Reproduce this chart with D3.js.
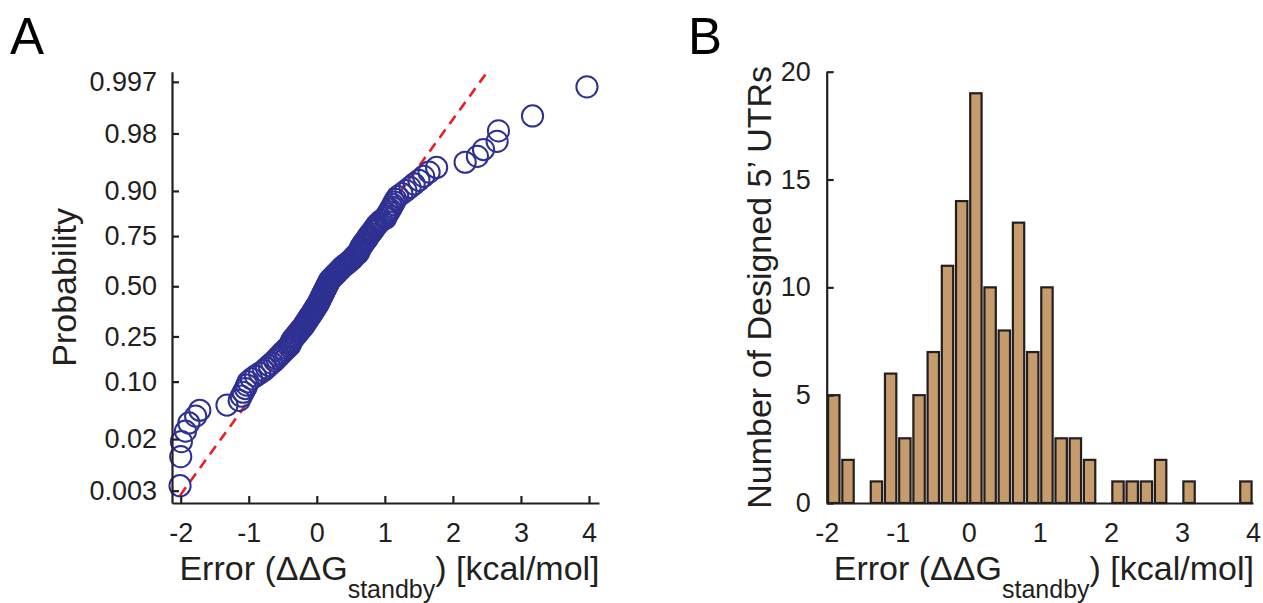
<!DOCTYPE html>
<html>
<head>
<meta charset="utf-8">
<script src="https://cdn.jsdelivr.net/npm/d3@7"></script>
<style>
  body { margin: 0; background: #fff; }
  svg { display: block; font-family: Arial, "Liberation Sans", Helvetica, sans-serif; }
</style>
</head>
<body>
<div id="chart"></div>
<script>
// Panel A: sorted errors (kcal/mol) of the designed 5' UTRs
const errorsSorted = [
  -2.01, -2.00, -1.99, -1.93, -1.88, -1.78, -1.72,
  -1.32,
  -1.14, -1.11, -1.08, -1.05, -1.03, -1.01,
  -0.96, -0.90, -0.84,
  -0.78, -0.74, -0.70, -0.66, -0.62,
  -0.59, -0.56, -0.53, -0.50, -0.47, -0.44, -0.41,
  -0.39, -0.38, -0.37, -0.35, -0.33, -0.31, -0.29, -0.27, -0.25, -0.23, -0.21,
  -0.19, -0.18, -0.16, -0.15, -0.13, -0.12, -0.10, -0.09, -0.07, -0.06, -0.05, -0.03, -0.02, -0.01,
  0.01, 0.02, 0.03, 0.04, 0.05, 0.06, 0.07, 0.08, 0.09, 0.10, 0.11, 0.12, 0.13, 0.14, 0.15, 0.16, 0.17, 0.18, 0.19,
  0.21, 0.23, 0.25, 0.27, 0.29, 0.31, 0.33, 0.35, 0.37, 0.39,
  0.42, 0.45, 0.47, 0.50, 0.52, 0.54, 0.56, 0.58,
  0.61, 0.62, 0.63, 0.64, 0.65, 0.67, 0.68, 0.70, 0.72, 0.74, 0.75, 0.77, 0.79,
  0.81, 0.83, 0.85, 0.87, 0.89, 0.92, 0.95,
  1.01, 1.02, 1.04, 1.06, 1.08, 1.10, 1.12, 1.14, 1.16, 1.19,
  1.25, 1.31, 1.37,
  1.43, 1.50, 1.57,
  1.65, 1.76,
  2.18, 2.36, 2.45, 2.65, 2.67, 3.17, 3.97
];
const probTicks = [0.003, 0.02, 0.10, 0.25, 0.50, 0.75, 0.90, 0.98, 0.997];
const probTickLabels = ["0.003", "0.02", "0.10", "0.25", "0.50", "0.75", "0.90", "0.98", "0.997"];
const errorTicks = [-2, -1, 0, 1, 2, 3, 4];

// Panel B: histogram of the same errors
const binStarts = [-2.0, -1.8, -1.6, -1.4, -1.2, -1.0, -0.8, -0.6, -0.4, -0.2,
                   0.0, 0.2, 0.4, 0.6, 0.8, 1.0, 1.2, 1.4, 1.6, 1.8,
                   2.0, 2.2, 2.4, 2.6, 2.8, 3.0, 3.2, 3.4, 3.6, 3.8, 4.0];
const binCounts = [5, 2, 0, 1, 6, 3, 5, 7, 11, 14,
                   19, 10, 8, 13, 7, 10, 3, 3, 2, 0,
                   1, 1, 1, 2, 0, 1, 0, 0, 0, 1];
const countTicks = [0, 5, 10, 15, 20];

// inverse of the standard normal CDF (Acklam), used for the probability axis
function normInv(p) {
    const a = [-3.969683028665376e+01, 2.209460984245205e+02, -2.759285104469687e+02, 1.383577518672690e+02, -3.066479806614716e+01, 2.506628277459239e+00];
    const b = [-5.447609879822406e+01, 1.615858368580409e+02, -1.556989798598866e+02, 6.680131188771972e+01, -1.328068155288572e+01];
    const c = [-7.784894002430293e-03, -3.223964580411365e-01, -2.400758277161838e+00, -2.549671010229528e+00, 4.374664141464968e+00, 2.938163982698783e+00];
    const d = [7.784695709041462e-03, 3.224671290700398e-01, 2.445134137142996e+00, 3.754408661907416e+00];
    const tail = q => (((((c[0]*q+c[1])*q+c[2])*q+c[3])*q+c[4])*q+c[5]) / ((((d[0]*q+d[1])*q+d[2])*q+d[3])*q+1);
    if (p < 0.02425) return tail(Math.sqrt(-2 * Math.log(p)));
    if (p > 1 - 0.02425) return -tail(Math.sqrt(-2 * Math.log(1 - p)));
    const q = p - 0.5, r = q * q;
    return (((((a[0]*r+a[1])*r+a[2])*r+a[3])*r+a[4])*r+a[5])*q / (((((b[0]*r+b[1])*r+b[2])*r+b[3])*r+b[4])*r+1);
}

function drawFigure(containerId) {
    const width = 1263, height = 603;
    const ink = "#231f20";
    const tickFont = 27, labelFont = 34;
    const plainNum = d => String(d);   // hyphen minus, as in the original

    const svg = d3.select(containerId).append("svg")
        .attr("width", width).attr("height", height)
        .style("background", "#fff");

    // axis label "Error (ΔΔG_standby) [kcal/mol]"
    const errorLabel = (cx) => {
        const t = svg.append("text").attr("x", cx + 4).attr("y", 580)
            .attr("text-anchor", "middle").attr("fill", ink).style("font-size", labelFont + "px");
        t.append("tspan").text("Error (ΔΔG");
        t.append("tspan").attr("dy", 18).style("font-size", "25px").text("standby");
        t.append("tspan").attr("dy", -18).text(") [kcal/mol]");
    };

    const styleAxis = (g) => {
        g.attr("font-family", null).attr("font-size", tickFont);
        g.select(".domain").attr("stroke", ink).attr("stroke-width", 2.2);
        g.selectAll(".tick line").attr("stroke", ink).attr("stroke-width", 2.2);
        g.selectAll(".tick text").attr("fill", ink);
    };

    // ---------- Panel A: normal probability plot ----------
    const ax = { left: 172, right: 599, top: 71.7, bottom: 503 };
    const xA = d3.scaleLinear().domain([-2.128, 4.147]).range([ax.left, ax.right]);
    const zA = d3.scaleLinear().domain([-2.913, 2.884]).range([ax.bottom, ax.top]);

    svg.append("text").attr("x", 10).attr("y", 54).attr("fill", "#000")
        .style("font-size", "51px").text("A");

    svg.append("clipPath").attr("id", "clipA").append("rect")
        .attr("x", ax.left).attr("y", ax.top)
        .attr("width", ax.right - ax.left).attr("height", ax.bottom - ax.top);

    // reference line through the quartiles (as normplot does)
    const q1 = d3.quantile(errorsSorted, 0.25), q3 = d3.quantile(errorsSorted, 0.75);
    const mu = (q1 + q3) / 2, sigma = (q3 - q1) / (2 * normInv(0.75));
    const xmin = d3.min(errorsSorted), xmax = d3.max(errorsSorted);
    svg.append("path")
        .datum([xmin, xmax])
        .attr("clip-path", "url(#clipA)")
        .attr("fill", "none").attr("stroke", "#ed1c24").attr("stroke-width", 2.6)
        .attr("stroke-dasharray", "10,7")
        .attr("d", d3.line().x(d => xA(d)).y(d => zA((d - mu) / sigma)));

    // points at plotting positions (i - 0.5) / n
    const n = errorsSorted.length;
    svg.append("g").selectAll("circle")
        .data(errorsSorted)
        .join("circle")
        .attr("cx", d => xA(d))
        .attr("cy", (d, i) => zA(normInv((i + 0.5) / n)))
        .attr("r", 10.6)
        .attr("fill", "none").attr("stroke", "#2e3192").attr("stroke-width", 2);

    svg.append("g").attr("transform", `translate(${ax.left},0)`)
        .call(d3.axisLeft(zA).tickValues(probTicks.map(normInv))
            .tickFormat((d, i) => probTickLabels[i])
            .tickSizeInner(-7).tickSizeOuter(0).tickPadding(15))
        .call(styleAxis);

    svg.append("g").attr("transform", `translate(0,${ax.bottom})`)
        .call(d3.axisBottom(xA).tickValues(errorTicks).tickFormat(plainNum)
            .tickSizeInner(-7).tickSizeOuter(0).tickPadding(20))
        .call(styleAxis);

    svg.append("text")
        .attr("transform", `translate(76,${(ax.top + ax.bottom) / 2}) rotate(-90)`)
        .attr("text-anchor", "middle").attr("fill", ink)
        .style("font-size", labelFont + "px").text("Probability");

    errorLabel((ax.left + ax.right) / 2);

    // ---------- Panel B: histogram ----------
    const bx = { left: 826.7, right: 1253, top: 71.7, bottom: 503 };
    const xB = d3.scaleLinear().domain([-2, 4]).range([bx.left, bx.right]);
    const yB = d3.scaleLinear().domain([0, 20]).range([bx.bottom, bx.top]);

    svg.append("text").attr("x", 688).attr("y", 54).attr("fill", "#000")
        .style("font-size", "51px").text("B");

    const bins = binCounts.map((c, i) => ({ x0: binStarts[i], x1: binStarts[i + 1], count: c }));

    svg.append("g").selectAll("rect")
        .data(bins.filter(d => d.count > 0))
        .join("rect")
        .attr("x", d => xB(d.x0 + (d.x1 - d.x0) * 0.1))
        .attr("width", d => xB(d.x1 - (d.x1 - d.x0) * 0.1) - xB(d.x0 + (d.x1 - d.x0) * 0.1))
        .attr("y", d => yB(d.count))
        .attr("height", d => yB(0) - yB(d.count))
        .attr("fill", "#c69c6d").attr("stroke", ink).attr("stroke-width", 2.2);

    svg.append("g").attr("transform", `translate(${bx.left},0)`)
        .call(d3.axisLeft(yB).tickValues(countTicks)
            .tickSizeInner(-7).tickSizeOuter(0).tickPadding(16))
        .call(styleAxis);

    svg.append("g").attr("transform", `translate(0,${bx.bottom})`)
        .call(d3.axisBottom(xB).tickValues(errorTicks).tickFormat(plainNum)
            .tickSizeInner(0).tickSizeOuter(0).tickPadding(20))
        .call(styleAxis);

    svg.append("text")
        .attr("transform", `translate(771,${(bx.top + bx.bottom) / 2}) rotate(-90)`)
        .attr("text-anchor", "middle").attr("fill", ink)
        .style("font-size", labelFont + "px").text("Number of Designed 5’ UTRs");

    errorLabel((bx.left + bx.right) / 2);
}

drawFigure("#chart");
</script>
</body>
</html>
